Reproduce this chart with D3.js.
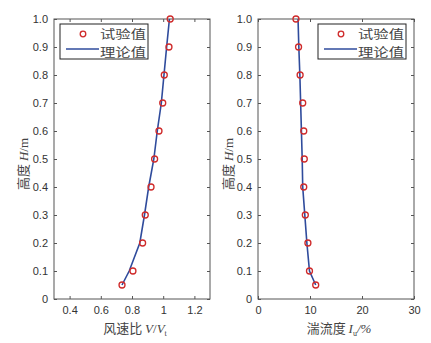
<!DOCTYPE html>
<html><head><meta charset="utf-8">
<script src="https://cdn.jsdelivr.net/npm/d3@7"></script>
<style>
body{margin:0;background:#fff;}
svg{display:block;}
.tick text{font-family:"Liberation Sans",Arial,sans-serif;font-size:11px;fill:#333;}
</style></head><body>
<svg id="c" width="431" height="343"></svg>
<script>
const heights = [0.05,0.1,0.2,0.3,0.4,0.5,0.6,0.7,0.8,0.9,1.0];
const speedTest = [0.736,0.806,0.868,0.885,0.922,0.945,0.973,0.997,1.007,1.037,1.045];
const speedTheory = [0.736,0.782,0.850,0.880,0.907,0.940,0.962,0.988,1.005,1.022,1.040];
const turbTest = [11.1,9.9,9.6,9.1,8.8,8.9,8.8,8.6,8.1,7.8,7.3];
const turbTheory = [11.1,9.9,9.4,9.0,8.6,8.5,8.35,8.2,8.05,7.85,7.7];
const yTicks = [0,0.1,0.2,0.3,0.4,0.5,0.6,0.7,0.8,0.9,1.0];
const speedTicks = [0.4,0.6,0.8,1,1.2];
const turbTicks = [0,10,20,30];
const legendLabels = ["试验值","理论值"];

const svg = d3.select("#c");
const axisColor = "#555";
const lineColor = "#2f4b9c";
const ptColor = "#cf2a2a";
const textColor = "#444";

function panel(opt){
  const {x0,x1,xDomain,xTicks,xFmt,test,theory,legendX,xlabel,ylabelX} = opt;
  const yTop=19, yBot=299;
  const x = d3.scaleLinear().domain(xDomain).range([x0,x1]);
  const y = d3.scaleLinear().domain([0,1]).range([yBot,yTop]);
  const g = svg.append("g");
  g.append("rect").attr("x",x0).attr("y",yTop).attr("width",x1-x0).attr("height",yBot-yTop)
    .attr("fill","none").attr("stroke",axisColor).attr("stroke-width",1);
  const yFmt = d => d===0?"0":d3.format(".1f")(d);
  const ax = g.append("g").attr("transform",`translate(${x0},0)`)
    .call(d3.axisLeft(y).tickValues(yTicks).tickFormat(yFmt).tickSizeInner(-3).tickSizeOuter(0).tickPadding(6));
  const ar = g.append("g").attr("transform",`translate(${x1},0)`)
    .call(d3.axisRight(y).tickValues(yTicks).tickFormat("").tickSizeInner(-3).tickSizeOuter(0));
  const ab = g.append("g").attr("transform",`translate(0,${yBot})`)
    .call(d3.axisBottom(x).tickValues(xTicks).tickFormat(xFmt).tickSizeInner(-3).tickSizeOuter(0).tickPadding(7));
  const at = g.append("g").attr("transform",`translate(0,${yTop})`)
    .call(d3.axisTop(x).tickValues(xTicks).tickFormat("").tickSizeInner(-3).tickSizeOuter(0));
  [ax,ar,ab,at].forEach(a=>{a.select(".domain").remove();a.selectAll("line").attr("stroke",axisColor);});
  const line = d3.line().x(d=>x(d)).y((d,i)=>y(heights[i]));
  g.append("path").datum(theory).attr("d",line).attr("fill","none")
    .attr("stroke",lineColor).attr("stroke-width",1.6);
  g.selectAll("circle.pt").data(test).enter().append("circle")
    .attr("cx",d=>x(d)).attr("cy",(d,i)=>y(heights[i])).attr("r",3)
    .attr("fill","none").attr("stroke",ptColor).attr("stroke-width",1.3);
  // legend
  const lw=88, lh=35;
  const lg = g.append("g").attr("transform",`translate(${legendX},24)`);
  lg.append("rect").attr("width",lw).attr("height",lh).attr("fill","#fff").attr("stroke","#222").attr("stroke-width",1);
  lg.append("circle").attr("cx",23).attr("cy",10).attr("r",2.8).attr("fill","none").attr("stroke",ptColor).attr("stroke-width",1.3);
  lg.append("line").attr("x1",6).attr("x2",39).attr("y1",25).attr("y2",25).attr("stroke",lineColor).attr("stroke-width",1.6);
  legendLabels.forEach((t,i)=>lg.append("text").attr("x",40).attr("y",15+i*18)
    .attr("font-family","'Noto Sans CJK SC',sans-serif").attr("font-size",12)
    .attr("textLength",46).attr("lengthAdjust","spacingAndGlyphs")
    .attr("fill",textColor).text(t));
  const xl = g.append("text").attr("x",(x0+x1)/2+3).attr("y",333).attr("text-anchor","middle")
    .attr("font-family","'Noto Sans CJK SC',sans-serif").attr("font-size",13).attr("fill",textColor);
  xlabel(xl);
  const yl = g.append("text").attr("transform",`translate(${ylabelX},164) rotate(-90)`).attr("text-anchor","middle")
    .attr("font-family","'Noto Sans CJK SC',sans-serif").attr("font-size",13).attr("fill",textColor);
  yl.append("tspan").attr("fill",textColor).text("高度 ");
  yl.append("tspan").attr("fill",textColor).attr("font-family","'Liberation Serif',serif").attr("font-style","italic").text("H");
  yl.append("tspan").attr("fill",textColor).attr("font-family","'Liberation Serif',serif").text("/m");
}

panel({x0:54,x1:210,xDomain:[0.3,1.3],xTicks:speedTicks,xFmt:d=>d3.format("~g")(d),
  test:speedTest,theory:speedTheory,legendX:60,ylabelX:28,
  xlabel:t=>{
    t.append("tspan").text("风速比 ");
    t.append("tspan").attr("font-family","'Liberation Serif',serif").attr("font-style","italic").text("V");
    t.append("tspan").attr("font-family","'Liberation Serif',serif").text("/");
    t.append("tspan").attr("font-family","'Liberation Serif',serif").attr("font-style","italic").text("V");
    t.append("tspan").attr("font-family","'Liberation Serif',serif").attr("font-size",8).attr("dy",3).text("t");
  }});
panel({x0:258,x1:414,xDomain:[0,30],xTicks:turbTicks,xFmt:d=>d,
  test:turbTest,theory:turbTheory,legendX:318,ylabelX:233,
  xlabel:t=>{
    t.append("tspan").text("湍流度 ");
    t.append("tspan").attr("font-family","'Liberation Serif',serif").attr("font-style","italic").text("I");
    t.append("tspan").attr("font-family","'Liberation Serif',serif").attr("font-size",8).attr("dy",3).text("u");
    t.append("tspan").attr("font-family","'Liberation Serif',serif").attr("font-style","italic").attr("dy",-3).text("/%");
  }});
</script>
</body></html>
